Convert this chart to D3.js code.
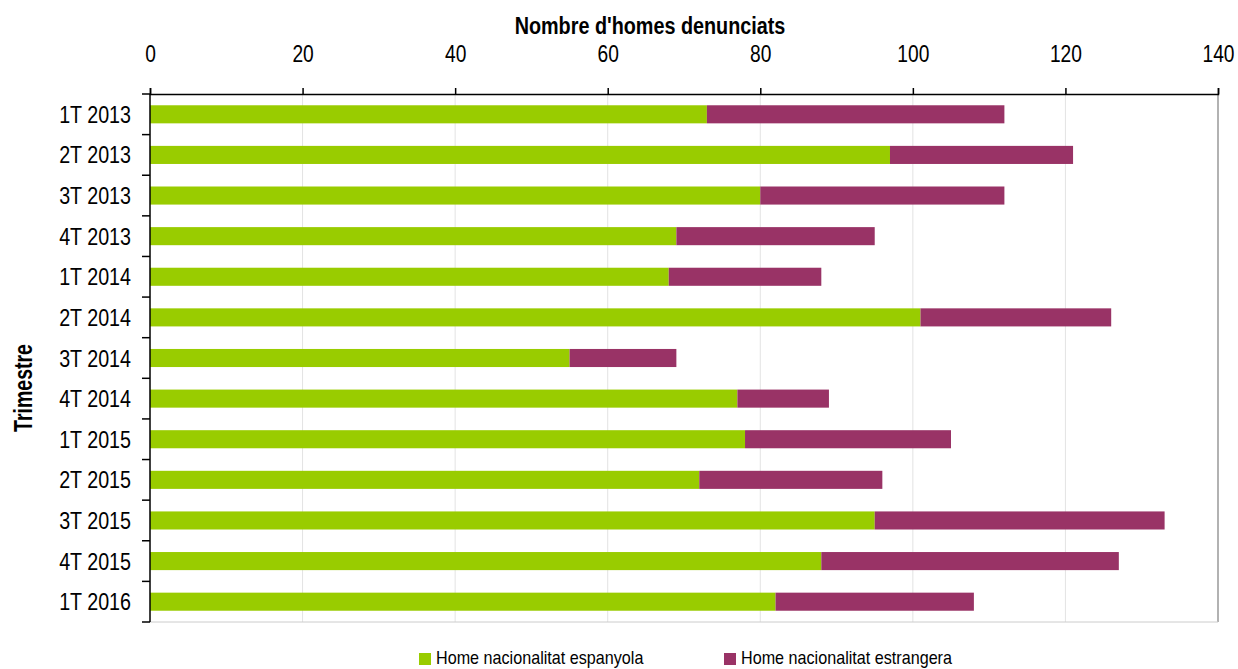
<!DOCTYPE html>
<html>
<head>
<meta charset="utf-8">
<script src="https://cdn.jsdelivr.net/npm/d3@7"></script>
<style>
  body { margin: 0; background: #fff; }
  text { font-family: "Liberation Sans", Arial, sans-serif; fill: #000; }
</style>
</head>
<body>
<div id="vis"></div>
<script>
var trimestres = ["1T 2013","2T 2013","3T 2013","4T 2013","1T 2014","2T 2014","3T 2014","4T 2014","1T 2015","2T 2015","3T 2015","4T 2015","1T 2016"]
var espanyola  = [73, 97, 80, 69, 68, 101, 55, 77, 78, 72, 95, 88, 82]
var estrangera = [39, 24, 32, 26, 20, 25, 14, 12, 27, 24, 38, 39, 26]
var series = ["Home nacionalitat espanyola", "Home nacionalitat estrangera"]
var colors = ["#99cc00", "#993366"]
var xTicks = [0, 20, 40, 60, 80, 100, 120, 140]

var margin = {top: 94, right: 20, bottom: 47, left: 150},
    width = 1238 - margin.left - margin.right,
    height = 669 - margin.top - margin.bottom

// narrow look: squeeze text horizontally (no Arial Narrow here)
function narrow(sel, f) {
  sel.each(function() {
    var w = this.getComputedTextLength()
    d3.select(this).attr("textLength", w * f).attr("lengthAdjust", "spacingAndGlyphs")
  })
}

var svg = d3.select("#vis").append("svg")
    .attr("width", 1238)
    .attr("height", 669)

var g = svg.append("g")
    .attr("transform", "translate(" + margin.left + "," + margin.top + ")")

var x = d3.scaleLinear().domain([0, 140]).range([0, width])
var y = d3.scaleBand().domain(trimestres).range([0, height]).paddingInner(0.555).paddingOuter(0.2775)

// gridlines
g.selectAll(".grid")
    .data(xTicks.slice(1, -1))
    .enter().append("line")
    .attr("x1", function(d) { return x(d) })
    .attr("x2", function(d) { return x(d) })
    .attr("y1", 0).attr("y2", height)
    .attr("stroke", "#e3e3e3")
    .attr("stroke-width", 1)

// frame right / bottom
g.append("line").attr("x1", width).attr("x2", width).attr("y1", 0).attr("y2", height)
    .attr("stroke", "#999").attr("stroke-width", 1.5)
g.append("line").attr("x1", 0).attr("x2", width).attr("y1", height).attr("y2", height)
    .attr("stroke", "#ccc").attr("stroke-width", 1)

// stacked bars
var rows = trimestres.map(function(t, i) { return {t: t, a: espanyola[i], b: estrangera[i]} })
var stack = d3.stack().keys(["a", "b"])(rows)

g.selectAll(".serie")
    .data(stack)
    .enter().append("g")
    .attr("fill", function(d, i) { return colors[i] })
  .selectAll("rect")
    .data(function(d) { return d })
    .enter().append("rect")
    .attr("x", function(d) { return x(d[0]) })
    .attr("width", function(d) { return x(d[1]) - x(d[0]) })
    .attr("y", function(d) { return y(d.data.t) })
    .attr("height", y.bandwidth())

// top axis
var xAxis = g.append("g")
    .call(d3.axisTop(x).tickValues(xTicks).tickSize(6).tickPadding(26))
xAxis.select(".domain").attr("stroke", "#000").attr("stroke-width", 1.5)
xAxis.selectAll(".tick line").attr("stroke", "#000").attr("stroke-width", 1.5)
xAxis.attr("font-family", null).attr("font-size", null)
xAxis.selectAll("text").style("font-size", "24px").call(narrow, 0.8)

// left axis: ticks at band boundaries
var bounds = d3.range(trimestres.length + 1).map(function(i) { return i * height / trimestres.length })
g.append("line").attr("x1", 0).attr("x2", 0).attr("y1", 0).attr("y2", height)
    .attr("stroke", "#000").attr("stroke-width", 1.5)
g.selectAll(".ytick")
    .data(bounds)
    .enter().append("line")
    .attr("x1", -8).attr("x2", 0)
    .attr("y1", function(d) { return d }).attr("y2", function(d) { return d })
    .attr("stroke", "#000").attr("stroke-width", 1.5)
g.selectAll(".ylab")
    .data(trimestres)
    .enter().append("text")
    .attr("x", -19)
    .attr("y", function(d) { return y(d) + y.bandwidth() / 2 + 8.5 })
    .attr("text-anchor", "end")
    .style("font-size", "24px")
    .text(function(d) { return d })
    .call(narrow, 0.82)

// axis titles
svg.append("text")
    .attr("x", 650).attr("y", 34)
    .attr("text-anchor", "middle")
    .style("font-size", "23px").style("font-weight", "bold")
    .text("Nombre d'homes denunciats")
    .call(narrow, 0.86)
svg.append("text")
    .attr("transform", "translate(32,388) rotate(-90)")
    .attr("text-anchor", "middle")
    .style("font-size", "25px").style("font-weight", "bold")
    .text("Trimestre")
    .call(narrow, 0.78)

// legend
var legend = svg.selectAll(".legend")
    .data(series)
    .enter().append("g")
    .attr("transform", function(d, i) { return "translate(" + (419 + i * 305) + ",653)" })
legend.append("rect")
    .attr("width", 12).attr("height", 12)
    .attr("fill", function(d, i) { return colors[i] })
legend.append("text")
    .attr("x", 17).attr("y", 11)
    .style("font-size", "19px")
    .text(function(d) { return d })
    .call(narrow, 0.85)
</script>
</body>
</html>
